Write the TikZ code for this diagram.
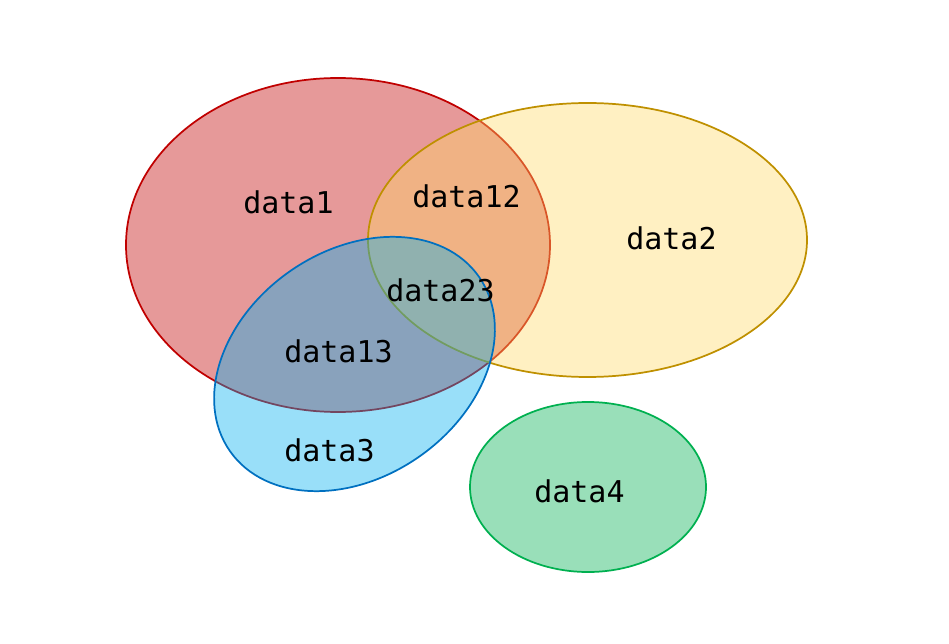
\documentclass[tikz,border=0pt]{standalone}
\usepackage{fontspec}
\setmonofont{DejaVu Sans Mono}
\usepackage{xcolor}

\definecolor{setred}{HTML}{C00000}
\definecolor{setgold}{HTML}{FFD966}
\definecolor{setgoldline}{HTML}{BF9000}
\definecolor{setblue}{HTML}{00B0F0}
\definecolor{setblueline}{HTML}{0070C0}
\definecolor{setgreen}{HTML}{00B050}

\begin{document}
\begin{tikzpicture}[x=0.75pt, y=0.75pt,
    setshape/.style={line width=1.3pt, fill opacity=0.4},
    setlabel/.style={anchor=base west, inner sep=0pt,
      font=\ttfamily\fontsize{22.5}{27}\selectfont}]
  % Fix the page size
  \useasboundingbox (0,0) rectangle (949,643);

  % Draw the sets, one on top of the other
  \draw[setshape, draw=setred, fill=setred] (338,398) ellipse (212 and 167);
  \draw[setshape, draw=setgoldline, fill=setgold] (587.5,403) ellipse (219.5 and 137);
  \draw[setshape, draw=setblueline, fill=setblue, rotate around={35:(354.5,279)}]
    (354.5,279) ellipse (152 and 113);
  \draw[setshape, draw=setgreen, fill=setgreen] (588,156) ellipse (118 and 85);

  % Put the labels in the regions
  \node[setlabel] (data1) at (243,429) {data1};
  \node[setlabel] (data12) at (412,435) {data12};
  \node[setlabel] (data2) at (626,393) {data2};
  \node[setlabel] (data23) at (386,341) {data23};
  \node[setlabel] (data13) at (284,280) {data13};
  \node[setlabel] (data3) at (284,182) {data3};
  \node[setlabel] (data4) at (534,141) {data4};
\end{tikzpicture}
\end{document}
